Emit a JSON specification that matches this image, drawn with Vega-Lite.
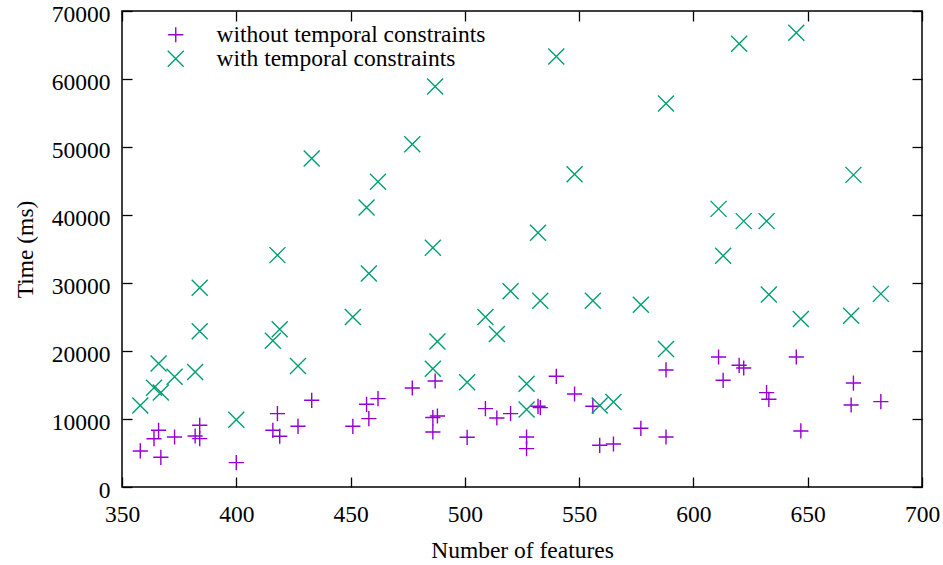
{
  "$schema": "https://vega.github.io/schema/vega-lite/v6.json",
  "width": 800,
  "height": 476,
  "autosize": "none",
  "padding": {"left": 122, "top": 11, "right": 21, "bottom": 78},
  "background": "white",
  "config": {
    "view": {"stroke": "black", "strokeWidth": 1.5},
    "font": "Times New Roman, Liberation Serif, serif",
    "axis": {
      "grid": false,
      "domain": false,
      "tickColor": "black",
      "tickWidth": 1.3,
      "tickSize": -10,
      "labelFont": "Times New Roman, Liberation Serif, serif",
      "labelFontSize": 23.5,
      "labelColor": "black",
      "titleFont": "Times New Roman, Liberation Serif, serif",
      "titleFontSize": 23.5,
      "titleFontWeight": "normal",
      "titleColor": "black",
      "labelFlush": false,
      "labelOverlap": false
    }
  },
  "data": {
    "values": [
      {"n": 358, "time": 5300, "series": "without temporal constraints"},
      {"n": 364, "time": 7100, "series": "without temporal constraints"},
      {"n": 366, "time": 8340, "series": "without temporal constraints"},
      {"n": 367, "time": 4370, "series": "without temporal constraints"},
      {"n": 373, "time": 7350, "series": "without temporal constraints"},
      {"n": 382, "time": 7500, "series": "without temporal constraints"},
      {"n": 384, "time": 9070, "series": "without temporal constraints"},
      {"n": 384, "time": 7120, "series": "without temporal constraints"},
      {"n": 400, "time": 3590, "series": "without temporal constraints"},
      {"n": 416, "time": 8340, "series": "without temporal constraints"},
      {"n": 418, "time": 10790, "series": "without temporal constraints"},
      {"n": 419, "time": 7460, "series": "without temporal constraints"},
      {"n": 427, "time": 8930, "series": "without temporal constraints"},
      {"n": 433, "time": 12750, "series": "without temporal constraints"},
      {"n": 451, "time": 8930, "series": "without temporal constraints"},
      {"n": 457, "time": 12160, "series": "without temporal constraints"},
      {"n": 458, "time": 10060, "series": "without temporal constraints"},
      {"n": 462, "time": 13000, "series": "without temporal constraints"},
      {"n": 477, "time": 14560, "series": "without temporal constraints"},
      {"n": 486, "time": 10210, "series": "without temporal constraints"},
      {"n": 486, "time": 8090, "series": "without temporal constraints"},
      {"n": 487, "time": 15590, "series": "without temporal constraints"},
      {"n": 488, "time": 10440, "series": "without temporal constraints"},
      {"n": 501, "time": 7310, "series": "without temporal constraints"},
      {"n": 509, "time": 11530, "series": "without temporal constraints"},
      {"n": 514, "time": 10150, "series": "without temporal constraints"},
      {"n": 520, "time": 10790, "series": "without temporal constraints"},
      {"n": 527, "time": 7350, "series": "without temporal constraints"},
      {"n": 527, "time": 5650, "series": "without temporal constraints"},
      {"n": 532, "time": 11870, "series": "without temporal constraints"},
      {"n": 533, "time": 11680, "series": "without temporal constraints"},
      {"n": 540, "time": 16280, "series": "without temporal constraints"},
      {"n": 548, "time": 13680, "series": "without temporal constraints"},
      {"n": 556, "time": 11870, "series": "without temporal constraints"},
      {"n": 559, "time": 6130, "series": "without temporal constraints"},
      {"n": 565, "time": 6320, "series": "without temporal constraints"},
      {"n": 577, "time": 8630, "series": "without temporal constraints"},
      {"n": 588, "time": 17210, "series": "without temporal constraints"},
      {"n": 588, "time": 7350, "series": "without temporal constraints"},
      {"n": 611, "time": 19120, "series": "without temporal constraints"},
      {"n": 613, "time": 15690, "series": "without temporal constraints"},
      {"n": 620, "time": 17900, "series": "without temporal constraints"},
      {"n": 622, "time": 17500, "series": "without temporal constraints"},
      {"n": 632, "time": 13880, "series": "without temporal constraints"},
      {"n": 633, "time": 12900, "series": "without temporal constraints"},
      {"n": 645, "time": 19120, "series": "without temporal constraints"},
      {"n": 647, "time": 8240, "series": "without temporal constraints"},
      {"n": 669, "time": 12060, "series": "without temporal constraints"},
      {"n": 670, "time": 15290, "series": "without temporal constraints"},
      {"n": 682, "time": 12560, "series": "without temporal constraints"},
      {"n": 358, "time": 12000, "series": "with temporal constraints"},
      {"n": 364, "time": 14600, "series": "with temporal constraints"},
      {"n": 366, "time": 18150, "series": "with temporal constraints"},
      {"n": 367, "time": 13900, "series": "with temporal constraints"},
      {"n": 373, "time": 16200, "series": "with temporal constraints"},
      {"n": 382, "time": 16900, "series": "with temporal constraints"},
      {"n": 384, "time": 22900, "series": "with temporal constraints"},
      {"n": 384, "time": 29300, "series": "with temporal constraints"},
      {"n": 400, "time": 9900, "series": "with temporal constraints"},
      {"n": 416, "time": 21500, "series": "with temporal constraints"},
      {"n": 418, "time": 34100, "series": "with temporal constraints"},
      {"n": 419, "time": 23200, "series": "with temporal constraints"},
      {"n": 427, "time": 17800, "series": "with temporal constraints"},
      {"n": 433, "time": 48300, "series": "with temporal constraints"},
      {"n": 451, "time": 25000, "series": "with temporal constraints"},
      {"n": 457, "time": 41100, "series": "with temporal constraints"},
      {"n": 458, "time": 31400, "series": "with temporal constraints"},
      {"n": 462, "time": 44900, "series": "with temporal constraints"},
      {"n": 477, "time": 50400, "series": "with temporal constraints"},
      {"n": 486, "time": 35200, "series": "with temporal constraints"},
      {"n": 486, "time": 17400, "series": "with temporal constraints"},
      {"n": 487, "time": 58900, "series": "with temporal constraints"},
      {"n": 488, "time": 21400, "series": "with temporal constraints"},
      {"n": 501, "time": 15400, "series": "with temporal constraints"},
      {"n": 509, "time": 25000, "series": "with temporal constraints"},
      {"n": 514, "time": 22500, "series": "with temporal constraints"},
      {"n": 520, "time": 28800, "series": "with temporal constraints"},
      {"n": 527, "time": 15200, "series": "with temporal constraints"},
      {"n": 527, "time": 11400, "series": "with temporal constraints"},
      {"n": 532, "time": 37400, "series": "with temporal constraints"},
      {"n": 533, "time": 27400, "series": "with temporal constraints"},
      {"n": 540, "time": 63300, "series": "with temporal constraints"},
      {"n": 548, "time": 46000, "series": "with temporal constraints"},
      {"n": 556, "time": 27400, "series": "with temporal constraints"},
      {"n": 559, "time": 12000, "series": "with temporal constraints"},
      {"n": 565, "time": 12500, "series": "with temporal constraints"},
      {"n": 577, "time": 26800, "series": "with temporal constraints"},
      {"n": 588, "time": 56400, "series": "with temporal constraints"},
      {"n": 588, "time": 20300, "series": "with temporal constraints"},
      {"n": 611, "time": 40900, "series": "with temporal constraints"},
      {"n": 613, "time": 34000, "series": "with temporal constraints"},
      {"n": 620, "time": 65200, "series": "with temporal constraints"},
      {"n": 622, "time": 39100, "series": "with temporal constraints"},
      {"n": 632, "time": 39100, "series": "with temporal constraints"},
      {"n": 633, "time": 28300, "series": "with temporal constraints"},
      {"n": 645, "time": 66800, "series": "with temporal constraints"},
      {"n": 647, "time": 24700, "series": "with temporal constraints"},
      {"n": 669, "time": 25200, "series": "with temporal constraints"},
      {"n": 670, "time": 45900, "series": "with temporal constraints"},
      {"n": 682, "time": 28400, "series": "with temporal constraints"}
    ]
  },
  "layer": [
    {
      "mark": {"type": "point", "filled": false, "strokeWidth": 1.4, "opacity": 1},
      "encoding": {
        "x": {
          "field": "n", "type": "quantitative",
          "scale": {"domain": [350, 700], "nice": false, "zero": false},
          "axis": {
            "orient": "bottom",
            "title": "Number of features",
            "values": [350, 400, 450, 500, 550, 600, 650, 700],
            "labelPadding": 25,
            "titleX": 400, "titleY": 70,
            "titleBaseline": "alphabetic", "titleAlign": "center"
          }
        },
        "y": {
          "field": "time", "type": "quantitative",
          "scale": {"domain": [0, 70000], "nice": false},
          "axis": {
            "orient": "left",
            "title": "Time (ms)",
            "values": [0, 10000, 20000, 30000, 40000, 50000, 60000, 70000],
            "format": "d",
            "labelPadding": 22,
            "labelOffset": 3,
            "titleAngle": -90,
            "titleX": -90, "titleY": 238,
            "titleBaseline": "alphabetic", "titleAlign": "center"
          }
        },
        "color": {
          "field": "series", "type": "nominal",
          "scale": {"domain": ["without temporal constraints", "with temporal constraints"], "range": ["#9400D3", "#009E73"]},
          "legend": {
            "title": null,
            "orient": "none",
            "legendX": 42,
            "legendY": 12,
            "padding": 0,
            "labelFont": "Times New Roman, Liberation Serif, serif",
            "labelFontSize": 23.5,
            "labelColor": "black",
            "labelOffset": 29,
            "labelLimit": 500,
            "symbolSize": 256,
            "symbolStrokeWidth": 1.4,
            "symbolFillColor": "transparent",
            "rowPadding": -1
          }
        },
        "shape": {
          "field": "series", "type": "nominal",
          "scale": {"domain": ["without temporal constraints", "with temporal constraints"], "range": ["M-0.95,0L0.95,0M0,-0.95L0,0.95", "M-1,-1L1,1M-1,1L1,-1"]},
          "legend": null
        },
        "size": {"value": 256}
      }
    },
    {
      "mark": {"type": "point", "opacity": 0},
      "encoding": {
        "x": {
          "field": "n", "type": "quantitative",
          "axis": {"orient": "top", "title": null, "labels": false, "values": [350, 400, 450, 500, 550, 600, 650, 700]}
        },
        "y": {
          "field": "time", "type": "quantitative",
          "axis": {"orient": "right", "title": null, "labels": false, "values": [0, 10000, 20000, 30000, 40000, 50000, 60000, 70000]}
        }
      }
    }
  ],
  "resolve": {"axis": {"x": "independent", "y": "independent"}}
}
